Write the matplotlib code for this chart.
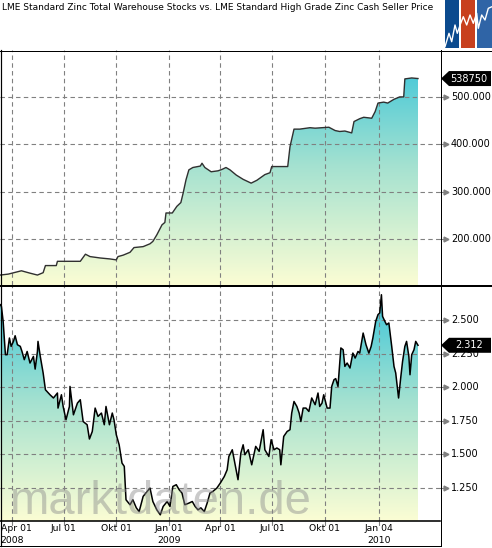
import numpy as np
import matplotlib
matplotlib.use("Agg")
import matplotlib.pyplot as plt
import matplotlib.dates as mdates
from matplotlib.colors import LinearSegmentedColormap
from matplotlib.patches import Polygon, Rectangle
from matplotlib.lines import Line2D

plt.rcParams["font.family"] = "DejaVu Sans"

title = "LME Standard Zinc Total Warehouse Stocks vs. LME Standard High Grade Zinc Cash Seller Price"
start = np.datetime64("2008-03-12")

# days since start, stock tonnes
stock_days = [0, 14, 37, 52, 65, 75, 79, 98, 100, 140, 149, 157, 175, 192, 203, 206, 215,
              227, 234, 250, 262, 267, 274, 283, 288, 290, 301, 309, 316, 320, 325, 330,
              337, 350, 353, 358, 369, 381, 388, 395, 402, 413, 425, 439, 449, 463, 472,
              475, 503, 507, 514, 524, 542, 551, 575, 586, 594, 603, 615, 619, 629, 636,
              650, 656, 661, 671, 678, 689, 699, 706, 708, 720, 731]
stock_vals = [124000, 126000, 133000, 128000, 124000, 129000, 144000, 144000, 153000, 153000,
              168000, 163000, 160000, 158000, 156000, 163000, 166000, 172000, 182000, 184000,
              190000, 195000, 209000, 230000, 235000, 255000, 255000, 269000, 277000, 297000,
              325000, 346000, 351000, 354000, 360000, 351000, 342000, 344000, 347000, 351000,
              346000, 335000, 326000, 318000, 324000, 336000, 340000, 353000, 353000, 395000,
              432000, 432000, 435000, 434000, 436000, 429000, 427000, 428000, 424000, 448000,
              454000, 457000, 455000, 469000, 487000, 489000, 487000, 495000, 500000, 500000,
              538000, 540000, 538750]

# days since start, cash seller price USD/t
price_days = [0, 2, 5, 9, 12, 16, 19, 23, 26, 30, 35, 38, 42, 47, 52, 58, 61, 65, 66, 70,
              75, 79, 87, 93, 100, 101, 107, 110, 115, 121, 122, 128, 135, 140, 145, 152,
              156, 161, 166, 171, 177, 182, 185, 191, 196, 199, 203, 208, 213, 217, 220,
              227, 232, 238, 243, 250, 257, 262, 267, 274, 280, 285, 292, 297, 302, 308,
              313, 318, 323, 330, 336, 341, 346, 351, 357, 362, 367, 372, 379, 385, 392,
              397, 400, 406, 411, 416, 421, 425, 428, 434, 440, 447, 453, 460, 463, 470,
              474, 479, 484, 489, 491, 496, 502, 507, 510, 514, 519, 523, 526, 530, 535,
              540, 545, 551, 556, 559, 563, 566, 572, 577, 580, 584, 587, 591, 596, 600,
              603, 607, 612, 617, 621, 626, 629, 635, 640, 645, 649, 652, 657, 661, 664,
              667, 669, 673, 676, 680, 685, 689, 692, 697, 701, 704, 708, 711, 715, 717,
              720, 724, 727, 731]
price_vals = [2614, 2600, 2490, 2242, 2242, 2366, 2304, 2341, 2383, 2316, 2304, 2266, 2205,
              2266, 2180, 2229, 2135, 2266, 2341, 2229, 2106, 1981, 1944, 1920, 1957, 1845,
              1944, 1857, 1758, 1857, 2006, 1795, 1882, 1907, 1745, 1721, 1615, 1671, 1845,
              1783, 1808, 1721, 1857, 1721, 1808, 1758, 1647, 1572, 1436, 1411, 1163, 1126,
              1163, 1103, 1075, 1188, 1225, 1250, 1150, 1088, 1051, 1113, 1150, 1113, 1262,
              1275, 1238, 1213, 1126, 1138, 1150, 1113, 1088, 1103, 1075, 1138, 1213, 1225,
              1250, 1287, 1336, 1386, 1485, 1535, 1423, 1312, 1510, 1572, 1498, 1535, 1423,
              1560, 1523, 1684, 1535, 1485, 1610, 1535, 1548, 1535, 1423, 1634, 1671, 1684,
              1808, 1894, 1857, 1808, 1745, 1845, 1845, 1820, 1920, 1870, 1957, 1857, 1882,
              1944, 1845, 1845, 2006, 2056, 2064, 2006, 2292, 2279, 2155, 2180, 2143, 2254,
              2217, 2266, 2254, 2403, 2316, 2254, 2304, 2366, 2490, 2540, 2552, 2688, 2527,
              2490, 2465, 2478, 2304, 2155, 2106, 1920, 2080, 2192, 2304, 2341, 2229, 2093,
              2242, 2279, 2341, 2312]

tick_dates = ["2008-04-01", "2008-07-01", "2008-10-01", "2009-01-01", "2009-04-01",
              "2009-07-01", "2009-10-01", "2010-01-04"]
tick_labels = ["Apr 01", "Jul 01", "Okt 01", "Jan 01", "Apr 01", "Jul 01", "Okt 01", "Jan 04"]
year_labels = {0: "2008", 3: "2009", 7: "2010"}

stock_ticks = [200000, 300000, 400000, 500000]
price_ticks = [1250, 1500, 1750, 2000, 2250, 2500]

W, H = 492, 548
fig = plt.figure(figsize=(W / 100, H / 100), dpi=100)


def fx(x):
    return x / W


def fy(y):
    return 1 - y / H


def dnum(days):
    return mdates.date2num(start + np.array(days).astype("timedelta64[D]"))


xlo = mdates.date2num(np.datetime64("2008-03-11")) + 0.5
xhi = xlo + 770
cmap = LinearSegmentedColormap.from_list("g", ["#fbfdd4", "#a6e2d0", "#36c4da"])
grid_kw = dict(color="#808080", lw=0.8, linestyle=(0, (4, 3)), zorder=2)
tx = [mdates.date2num(np.datetime64(d)) for d in tick_dates]


def panel(rect, days, vals, ylim, ticks, fmt, lw, lc):
    ax = fig.add_axes(rect)
    x = dnum(days)
    ax.set_xlim(xlo, xhi)
    ax.set_ylim(*ylim)
    ax.set_autoscale_on(False)
    poly = ax.fill_between(x, vals, ylim[0], facecolor="none", edgecolor="none")
    grad = np.linspace(0, 1, 256).reshape(-1, 1)
    im = ax.imshow(grad, extent=(xlo, xhi, ylim[0], ylim[1]), origin="lower",
                   aspect="auto", cmap=cmap, zorder=1)
    im.set_clip_path(poly.get_paths()[0], transform=ax.transData)
    ax.plot(x, vals, color=lc, lw=lw, zorder=3)
    for t in tx:
        ax.axvline(t, **grid_kw)
    yt = ax.get_yaxis_transform()
    for t in ticks:
        ax.axhline(t, **grid_kw)
        ax.plot([1.0, 1.012], [t, t], color="#808080", lw=0.8, transform=yt, clip_on=False)
        ax.plot([1.014], [t], marker=">", ms=3.5, color="#808080", mec="#808080",
                transform=yt, clip_on=False)
        ax.text(1.025, t, fmt(t), transform=yt, fontsize=7, va="center", ha="left")
    ax.set_xticks([])
    ax.set_yticks([])
    for s in ax.spines.values():
        s.set_visible(False)
    # last value tag, drawn over the tick label it covers
    disp = ax.transData.transform((x[-1], vals[-1]))
    yc = fig.transFigure.inverted().transform(disp)[1]
    h = 7.5 / H
    verts = [(fx(441), yc), (fx(449), yc + h), (fx(491), yc + h), (fx(491), yc - h), (fx(449), yc - h)]
    fig.add_artist(Polygon(verts, closed=True, transform=fig.transFigure,
                           facecolor="black", edgecolor="none", zorder=5))
    fig.text(fx(469), yc, fmt(vals[-1]) if vals[-1] < 10000 else str(vals[-1]),
             color="white", fontsize=7, ha="center", va="center", zorder=6)
    return ax


def thousands(v):
    return f"{int(v):,}".replace(",", ".")


ax1 = panel([0, fy(285), fx(440), 235 / H], stock_days, stock_vals, (103000, 599000),
            stock_ticks, thousands, 1.0, "#303030")
ax2 = panel([0, fy(521), fx(440), 235 / H], price_days, price_vals, (1005, 2753),
            price_ticks, thousands, 1.1, "black")

# watermark
ax2.text(0.023, 0.03, "marktdaten.de", transform=ax2.transAxes, fontsize=34,
         family="Liberation Sans", color="#8a8a8a", alpha=0.45, va="baseline",
         ha="left", zorder=4)

# x labels
for i, (t, lab) in enumerate(zip(tx, tick_labels)):
    ha = "center"
    xpos = t
    trans = ax2.get_xaxis_transform()
    if i == 0:
        ha, xpos = "left", xlo + 1.0
    ax2.text(xpos, -0.034, lab, transform=trans, fontsize=6.7, ha=ha, va="center")
    if i in year_labels:
        ax2.text(xpos, -0.085, year_labels[i], transform=trans, fontsize=6.7, ha=ha, va="center")
    ax2.plot([t, t], [0, -0.022], transform=trans, clip_on=False, **grid_kw)

# frame lines
lines = [((0, 492), (50.5, 50.5), 1.0), ((0, 492), (285.5, 285.5), 2.0),
         ((0, 440), (521, 521), 1.6), ((0, 440), (546, 546), 1.0),
         ((440.5, 440.5), (50, 546), 1.0), ((0.5, 0.5), (50, 546), 1.2)]
for xs, ys, w in lines:
    fig.add_artist(Line2D([fx(v) for v in xs], [fy(v) for v in ys], color="black",
                          lw=w * 0.72, transform=fig.transFigure, zorder=4))

fig.text(fx(2), fy(8), title, fontsize=6.5, ha="left", va="center")

# logo
lg = fig.add_axes([fx(445), fy(48), fx(47), 48 / H])
lg.set_xlim(445, 492)
lg.set_ylim(48, 0)
lg.axis("off")
for x0, x1, c in [(445, 459, "#0b4a8e"), (461, 475, "#c8401e"), (477, 492, "#2f64a6")]:
    lg.add_patch(Rectangle((x0, 0), x1 - x0, 48, facecolor=c, edgecolor="none"))
zx = [445, 449, 451.7, 455, 457.3, 460.7, 463.3, 466.7, 470, 473.3, 476.7, 478.3, 481.7, 485, 488.3, 492]
zy = [46.7, 33.3, 41.7, 25, 33.3, 23.3, 16.7, 25, 15, 23.3, 13.3, 28.3, 15, 20, 8.3, 6.7]
lg.plot(zx, zy, color="white", lw=1.0)

fig.savefig("out.png", dpi=100)
